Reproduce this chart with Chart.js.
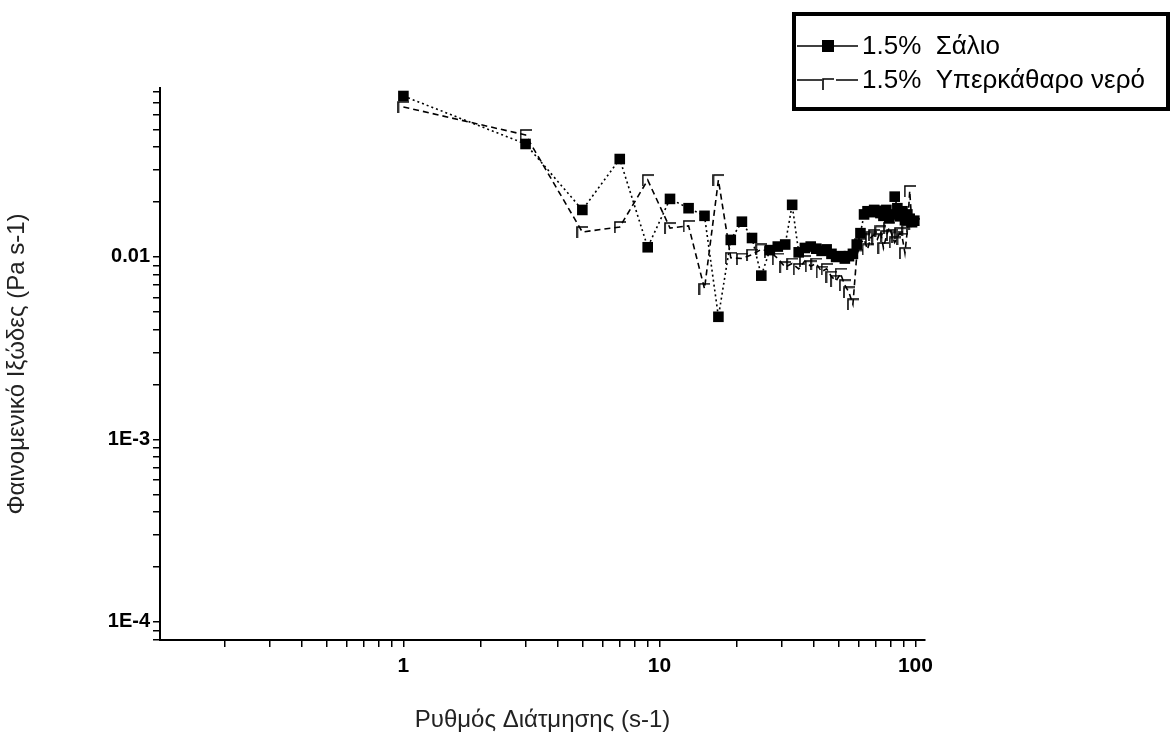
<!DOCTYPE html>
<html>
<head>
<meta charset="utf-8">
<script src="https://cdn.jsdelivr.net/npm/chart.js@4.4.0/dist/chart.umd.min.js"></script>
<style>
body { margin: 0; background: #fff; }
#wrap { width: 1174px; height: 735px; position: relative; }
</style>
</head>
<body>
<div id="wrap"><canvas id="chart"></canvas></div>
<script>
// shear rate (s-1) and apparent viscosity (Pa s)
var shearRate = [1, 3, 5, 7, 9, 11, 13, 15, 17, 19, 21, 23, 25, 27, 29, 31, 33, 35, 37, 39,
  41, 43, 45, 47, 49, 51, 53, 55, 57, 59, 61, 63, 65, 67, 69, 71, 73, 75, 77, 79,
  81, 83, 85, 87, 89, 91, 93, 95, 97, 99];

var saliva = [0.0762, 0.0416, 0.0181, 0.0344, 0.0113, 0.0208, 0.0185, 0.0168, 0.0047, 0.0124,
  0.0156, 0.0127, 0.0079, 0.0109, 0.0114, 0.0117, 0.0193, 0.0106, 0.0112, 0.0114,
  0.0111, 0.0108, 0.0110, 0.0104, 0.0100, 0.0101, 0.0098, 0.0101, 0.0104, 0.0117,
  0.0135, 0.0171, 0.0178, 0.0176, 0.0181, 0.0179, 0.0174, 0.0168, 0.0181, 0.0163,
  0.0171, 0.0214, 0.0185, 0.0167, 0.0178, 0.0159, 0.0171, 0.0162, 0.0155, 0.0158];

var water = [0.0664, 0.0466, 0.0137, 0.0146, 0.0264, 0.0144, 0.0148, 0.0067, 0.0264, 0.0099,
  0.0098, 0.0103, 0.0110, 0.0107, 0.0098, 0.0088, 0.0092, 0.0086, 0.0095, 0.0089,
  0.0092, 0.0083, 0.0086, 0.0078, 0.0074, 0.0081, 0.0070, 0.0064, 0.0055, 0.0102,
  0.0118, 0.0125, 0.0110, 0.0128, 0.0132, 0.0125, 0.0138, 0.0112, 0.0130, 0.0145,
  0.0132, 0.0120, 0.0128, 0.0135, 0.0126, 0.0105, 0.0140, 0.0230, 0.0148, 0.0152];

var seriesNames = ['1.5%  Σάλιο', '1.5%  Υπερκάθαρο νερό'];

var xTickValues = [1, 10, 100];
var xTickLabels = ['1', '10', '100'];
var yTickValues = [0.0001, 0.001, 0.01];
var yTickLabels = ['1E-4', '1E-3', '0.01'];

function toPoints(xs, ys) {
  var pts = [];
  for (var i = 0; i < xs.length; i++) pts.push({ x: xs[i], y: ys[i] });
  return pts;
}

// minor ticks 2..9 in every decade between min and max
function logTicks(min, max) {
  var out = [];
  for (var e = -6; e <= 3; e++) {
    for (var m = 1; m <= 9; m++) {
      var v = m * Math.pow(10, e);
      if (v >= min * 0.999 && v <= max * 1.001) out.push({ value: v });
    }
  }
  return out;
}

function labelFor(values, labels, v) {
  for (var i = 0; i < values.length; i++) {
    if (Math.abs(v - values[i]) / values[i] < 1e-6) return labels[i];
  }
  return '';
}

// open corner marker like the origin symbol
function cornerMark() {
  var c = document.createElement('canvas');
  c.width = 12; c.height = 12;
  var g = c.getContext('2d');
  g.strokeStyle = '#000';
  g.lineWidth = 1.6;
  g.beginPath();
  g.moveTo(1, 12); g.lineTo(1, 1); g.lineTo(12, 1);
  g.stroke();
  return c;
}
var waterMark = cornerMark();

var boxLegend = {
  id: 'boxLegend',
  afterDraw: function (chart) {
    var ctx = chart.ctx;
    ctx.save();
    ctx.strokeStyle = '#000';
    ctx.lineWidth = 4;
    ctx.strokeRect(794, 14, 374, 95);
    ctx.lineWidth = 1.5;
    ctx.font = '26px "Liberation Sans", Arial, sans-serif';
    ctx.fillStyle = '#000';
    ctx.textBaseline = 'middle';
    var rows = [46, 80];
    for (var i = 0; i < 2; i++) {
      var y = rows[i];
      ctx.beginPath();
      if (i === 0) {
        ctx.moveTo(797, y); ctx.lineTo(858, y);
        ctx.stroke();
        ctx.fillRect(822, y - 6, 12, 12);
      } else {
        ctx.moveTo(797, y); ctx.lineTo(822, y);
        ctx.moveTo(836, y); ctx.lineTo(858, y);
        ctx.stroke();
        ctx.drawImage(waterMark, 822, y - 2, 12, 12);
      }
      ctx.fillText(chart.data.datasets[i].label, 862, y + 1);
    }
    ctx.restore();
  }
};

var ctx = document.getElementById('chart').getContext('2d');
var chart = new Chart(ctx, {
  type: 'line',
  data: {
    datasets: [{
      label: seriesNames[0],
      data: toPoints(shearRate, saliva),
      borderColor: '#000',
      backgroundColor: '#000',
      borderWidth: 1.6,
      borderDash: [2, 3],
      pointStyle: 'rect',
      pointRadius: 7.5,
      pointBorderWidth: 0,
      pointBackgroundColor: '#000',
      fill: false,
      tension: 0
    }, {
      label: seriesNames[1],
      data: toPoints(shearRate, water),
      borderColor: '#000',
      backgroundColor: '#000',
      borderWidth: 1.6,
      borderDash: [6, 4],
      pointStyle: waterMark,
      pointRadius: 6,
      fill: false,
      tension: 0
    }]
  },
  options: {
    responsive: true,
    maintainAspectRatio: false,
    animation: false,
    layout: { padding: { top: 88, right: 249, left: 0, bottom: 0 } },
    plugins: {
      legend: { display: false },
      tooltip: { enabled: false }
    },
    scales: {
      x: {
        type: 'logarithmic',
        min: 0.112,
        max: 109,
        afterFit: function (s) { s.height = 95; },
        afterBuildTicks: function (s) { s.ticks = logTicks(s.min, s.max); },
        grid: { display: true, drawOnChartArea: false, drawTicks: true, tickLength: 7, color: '#000', lineWidth: 1.5 },
        border: { display: true, color: '#000', width: 2 },
        ticks: {
          autoSkip: false,
          maxRotation: 0,
          padding: 7,
          color: '#000',
          font: { family: '"Liberation Sans", Arial, sans-serif', size: 21, weight: 'bold' },
          callback: function (v) { return labelFor(xTickValues, xTickLabels, v); }
        },
        title: {
          display: true,
          text: 'Ρυθμός Διάτμησης (s-1)',
          color: '#222',
          font: { family: '"Liberation Sans", Arial, sans-serif', size: 24 },
          padding: { top: 0, bottom: 0 }
        }
      },
      y: {
        type: 'logarithmic',
        min: 0.0000796,
        max: 0.0843,
        afterFit: function (s) { s.width = 160; },
        afterBuildTicks: function (s) { s.ticks = logTicks(s.min, s.max); },
        grid: { display: true, drawOnChartArea: false, drawTicks: true, tickLength: 7, color: '#000', lineWidth: 1.5 },
        border: { display: true, color: '#000', width: 2 },
        ticks: {
          autoSkip: false,
          padding: 3,
          color: '#000',
          font: { family: '"Liberation Sans", Arial, sans-serif', size: 20, weight: 'bold' },
          callback: function (v) { return labelFor(yTickValues, yTickLabels, v); }
        },
        title: {
          display: true,
          text: 'Φαινομενικό Ιξώδες (Pa s-1)',
          color: '#222',
          font: { family: '"Liberation Sans", Arial, sans-serif', size: 24 },
          padding: { top: 3, bottom: 0 }
        }
      }
    }
  },
  plugins: [boxLegend]
});
</script>
</body>
</html>
